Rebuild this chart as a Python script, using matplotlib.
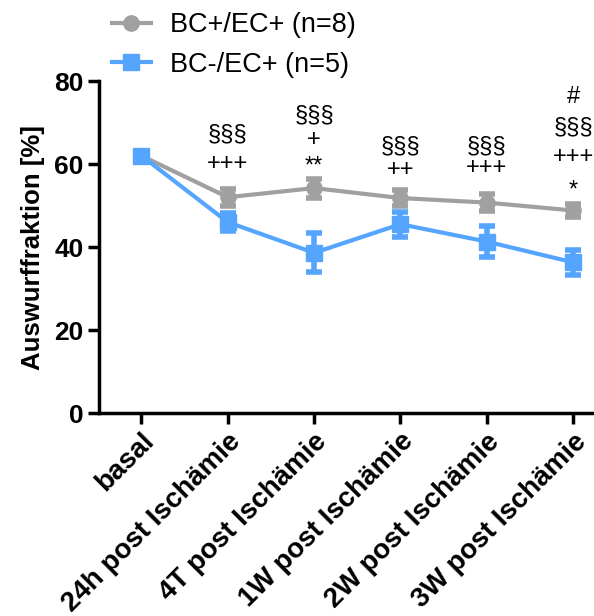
import numpy as np
import matplotlib
matplotlib.use("Agg")
import matplotlib.pyplot as plt

plt.rcParams['font.family'] = ['Liberation Sans', 'DejaVu Sans']

# Data
timepoints = ["basal", "24h post Ischämie", "4T post Ischämie",
              "1W post Ischämie", "2W post Ischämie", "3W post Ischämie"]
gray_mean = [62.0, 52.0, 54.2, 51.8, 50.7, 48.8]
gray_sem = [0.8, 2.0, 2.3, 2.0, 2.0, 1.5]
blue_mean = [62.0, 46.0, 38.6, 45.5, 41.3, 36.3]
blue_sem = [0.8, 2.2, 4.7, 3.0, 3.8, 3.0]
gray_label = "BC+/EC+ (n=8)"
blue_label = "BC-/EC+ (n=5)"

# significance annotations: (x index, y in data units, text)
sig_x = [1, 1, 2, 2, 2, 3, 3, 4, 4, 5, 5, 5, 5]
sig_y = [67.2, 60.0, 71.8, 65.8, 59.5, 64.3, 58.6, 64.3, 59.0, 76.1, 68.9, 61.7, 53.5]
sig_txt = ["§§§", "+++", "§§§", "+", "**", "§§§", "++", "§§§", "+++",
           "#", "§§§", "+++", "*"]

gray = "#A0A0A0"
blue = "#55A5FF"

fig = plt.figure(figsize=(5.94, 6.16), dpi=100)
ax = fig.add_axes([0.1667, 0.3295, 0.8333, 0.539])

x = np.arange(len(timepoints))
ax.errorbar(x, gray_mean, yerr=gray_sem, color=gray, lw=3, marker="o", ms=11,
            capsize=6, capthick=4, elinewidth=4, label=gray_label, zorder=3)
ax.errorbar(x, blue_mean, yerr=blue_sem, color=blue, lw=3, marker="s", ms=11,
            capsize=6, capthick=4, elinewidth=4, label=blue_label, zorder=4)

for xi, yi, t in zip(sig_x, sig_y, sig_txt):
    ax.text(xi, yi, t, ha="center", va="center", fontsize=17)

ax.set_xlim(-0.49, 5.24)
ax.set_ylim(0, 80)
ax.set_yticks([0, 20, 40, 60, 80])
ax.set_xticks(x)
ax.set_xticklabels(timepoints, rotation=45, ha="right", rotation_mode="anchor",
                   fontsize=20, fontweight="bold")
for lab in ax.get_yticklabels():
    lab.set_fontsize(19)
    lab.set_fontweight("bold")
ax.set_ylabel("Auswurffraktion [%]", fontsize=18.5, fontweight="bold", labelpad=7)

for s in ["top", "right"]:
    ax.spines[s].set_visible(False)
for s in ["left", "bottom"]:
    ax.spines[s].set_linewidth(2.5)
ax.tick_params(width=2.5, length=8, pad=3)

h, l = ax.get_legend_handles_labels()
handles = [hh[0] for hh in h]
fig.legend(handles, l, loc="upper left", bbox_to_anchor=(0.147, 1.02),
           frameon=False, fontsize=19.5, handlelength=1.45, handletextpad=0.7,
           labelspacing=0.5)

fig.savefig("out.png", dpi=100)
